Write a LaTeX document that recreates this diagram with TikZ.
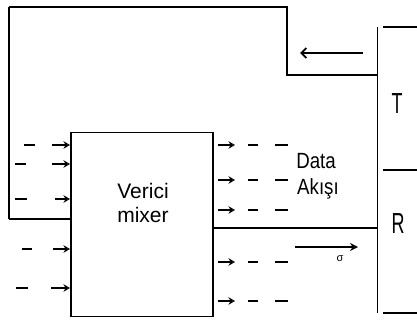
\documentclass[tikz,border=0pt]{standalone}
\usepackage{fontspec}
\setmainfont{Liberation Sans}
\newfontfamily\narrowfont[FakeStretch=0.62]{Liberation Sans}
\newfontfamily\midfont[FakeStretch=0.85]{Liberation Sans}
\usetikzlibrary{arrows.meta}
\begin{document}
\begin{tikzpicture}[x=1pt,y=-1pt,
  wire/.style={line width=1.2pt},
  thin wire/.style={line width=0.9pt},
  dash seg/.style={line width=1.4pt},
  inarrow/.style={line width=1.4pt,-{Stealth[open,length=6.5pt,width=7.5pt,line width=1.3pt]}},
  bigarrow/.style={line width=1.2pt,-{Stealth[open,length=8pt,width=8pt,line width=1.4pt]}},
  backarrow/.style={line width=1.2pt,-{Straight Barb[length=5pt,width=10pt,line width=1.8pt]}},
  lbl/.style={inner sep=0pt,font=\fontsize{21}{24}\selectfont},
  blbl/.style={inner sep=0pt,font=\narrowfont\fontsize{29}{30}\selectfont},
  dlbl/.style={inner sep=0pt,font=\midfont\fontsize{22}{27}\selectfont,align=left}]
\useasboundingbox (0,0) rectangle (417,321);
% mixer box
\node[draw,wire,minimum width=142pt,minimum height=184pt,inner sep=0pt] (mixer) at (142,224.5) {};
\node[lbl,align=center] (mixtext) at (143,203) {Verici\\mixer};
% right T/R block
\coordinate (Rtop) at (377,27);
\coordinate (Rbot) at (377,313);
\coordinate (Rmid) at (377,170);
\draw[thin wire] (Rtop) -- (Rbot);
\draw[wire] (383,27) -- (417,27);
\draw[wire] (383,170) -- (417,170);
\draw[wire] (383,313) -- (417,313);
\node[blbl] (T) at (397,104) {T};
\node[blbl] (R) at (398,224) {R};
% feedback loop from T to mixer input
\coordinate (Tout) at (377,75);
\coordinate (c1) at (287,75);
\coordinate (c2) at (287,7);
\coordinate (c3) at (9,7);
\coordinate (c4) at (9,219);
\coordinate (Min) at (mixer.west |- c4);
\draw[wire] (Tout) -- (c1) -- (c2) -- (c3);
\draw[line width=2pt] (c3) -- (c4);
\draw[wire] (c4) -- (Min);
% feedback arrow
\coordinate (fa1) at (363,53);
\coordinate (fa2) at (300,53);
\draw[backarrow] (fa1) -- (fa2);
% output line mixer to R
\coordinate (Mout) at (mixer.east |- 0,228);
\coordinate (Rin) at (377,228);
\draw[wire] (Mout) -- (Rin);
\coordinate (oa1) at (295,247);
\coordinate (oa2) at (358,247);
\draw[bigarrow] (oa1) -- (oa2);
\node[inner sep=0pt,font=\fontsize{11}{11}\selectfont] (mark) at (340,259) {σ};
% labels
\node[dlbl] (data) at (316,161) {Data};
\node[dlbl] (akis) at (318,189) {Akışı};
% left inputs
\foreach \y/\da/\db/\aa in {145/24/35/52, 164/15/26/52, 199/15/27/55, 249/22/32/53, 288/16/28/51}{
  \draw[dash seg] (\da,\y) -- (\db,\y);
  \draw[inarrow] (\aa,\y) -- (70,\y);
}
% right outputs
\foreach \y in {145,180,210,262,301}{
  \draw[inarrow] (218,\y) -- (235,\y);
  \draw[dash seg] (248,\y) -- (258,\y);
  \draw[dash seg] (275,\y) -- (288,\y);
}
\end{tikzpicture}
\end{document}
